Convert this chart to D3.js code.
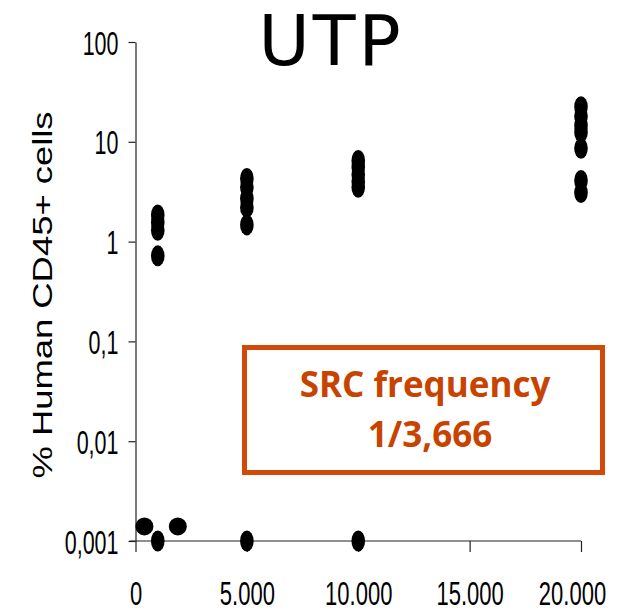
<!DOCTYPE html>
<html>
<head>
<meta charset="utf-8">
<script src="https://cdn.jsdelivr.net/npm/d3@7"></script>
<style>
  body { margin: 0; background: #fff; }
  svg { display: block; }
</style>
</head>
<body>
<div id="chart"></div>
<script>
// cell dose vs % human CD45+ (ellipse markers)
var cellDose = [1000, 1000, 1000, 1000,
                5000, 5000, 5000, 5000, 5000,
                10000, 10000, 10000, 10000, 10000,
                20000, 20000, 20000, 20000, 20000, 20000, 20000,
                1000, 5000, 10000];
var pctCD45 = [1.85, 1.55, 1.3, 0.72,
               4.3, 3.5, 2.7, 2.2, 1.47,
               6.5, 5.6, 4.7, 4.0, 3.5,
               22.5, 18, 14.5, 12.5, 8.6, 4.1, 3.1,
               0.001, 0.001, 0.001];
// the round markers near the origin
var roundDose = [400, 1900];
var roundPct = [0.0014, 0.0014];

var yTicks = [0.001, 0.01, 0.1, 1, 10, 100];
var yTickLabels = ["0,001", "0,01", "0,1", "1", "10", "100"];
var xTicks = [0, 5000, 10000, 15000, 20000];
var xTickLabels = ["0", "5.000", "10.000", "15.000", "20.000"];

var width = 621, height = 614;
var stretch = 1.55;

var svg = d3.select("#chart").append("svg")
	.attr("width", width)
	.attr("height", height);

var x = d3.scaleLinear().domain([0, 20000]).range([135.5, 581]);
var y = d3.scaleLog().domain([0.001, 100]).range([541, 42]);

// y axis
var yAxis = svg.append("g")
	.attr("transform", "translate(" + x(0) + ",0)")
	.call(d3.axisLeft(y)
		.tickValues(yTicks)
		.tickSize(7)
		.tickSizeOuter(0)
		.tickPadding(10)
		.tickFormat(function(d, i){ return yTickLabels[i]; }));
yAxis.selectAll("text")
	.attr("dy", "0.36em")
	.attr("transform", "scale(1," + stretch + ")")
	.style("font-family", "'Liberation Sans', Arial, sans-serif")
	.style("font-size", "21.5px")
	.style("fill", "#000");

// x axis
var xAxis = svg.append("g")
	.attr("transform", "translate(0," + y(0.001) + ")")
	.call(d3.axisBottom(x)
		.tickValues(xTicks)
		.tickSize(11)
		.tickSizeOuter(0)
		.tickFormat(function(d, i){ return xTickLabels[i]; }));
xAxis.selectAll("text")
	.attr("y", 64 / stretch)
	.attr("dy", 0)
	.attr("transform", "scale(1," + stretch + ")")
	.style("font-family", "'Liberation Sans', Arial, sans-serif")
	.style("font-size", "22px")
	.style("fill", "#000");
// last label pushed in so it fits the page
xAxis.selectAll(".tick").filter(function(d){ return d == 20000; })
	.select("text").attr("x", -9);
xAxis.select(".domain").attr("d", "M" + (x(0) - 6) + ",0H" + x(20000));

svg.selectAll(".domain, .tick line")
	.attr("stroke", "#222")
	.attr("stroke-width", 1.2);

// points
var pts = svg.append("g").attr("class", "points");
pts.selectAll("ellipse")
	.data(cellDose)
	.enter().append("ellipse")
	.attr("cx", function(d){ return x(d); })
	.attr("cy", function(d, i){ return y(pctCD45[i]); })
	.attr("rx", 6.8)
	.attr("ry", 10.5)
	.style("fill", "#000");
pts.selectAll("circle")
	.data(roundDose)
	.enter().append("circle")
	.attr("cx", function(d){ return x(d); })
	.attr("cy", function(d, i){ return y(roundPct[i]); })
	.attr("r", 9)
	.style("fill", "#000");

// y title
svg.append("text")
	.attr("transform", "translate(43,295) scale(1,1.3) rotate(-90)")
	.attr("text-anchor", "middle")
	.attr("dominant-baseline", "central")
	.style("font-family", "'Liberation Sans', Arial, sans-serif")
	.style("font-size", "28px")
	.text("% Human CD45+ cells");

// title
svg.append("text")
	.attr("x", 331)
	.attr("y", 65)
	.attr("text-anchor", "middle")
	.style("font-family", "'Comic Sans MS', 'DejaVu Sans', sans-serif")
	.style("font-size", "70px")
	.style("letter-spacing", "3px")
	.text("UTP");

// SRC box
svg.append("rect")
	.attr("x", 244.5)
	.attr("y", 347.5)
	.attr("width", 358)
	.attr("height", 125)
	.style("fill", "none")
	.style("stroke", "#d24a0a")
	.style("stroke-width", 5);

var boxText = svg.append("g")
	.style("font-family", "'Open Sans', Lato, sans-serif")
	.style("font-weight", "bold")
	.style("font-size", "35px")
	.style("fill", "#c84300")
	.attr("text-anchor", "middle");
boxText.append("text").attr("x", 425).attr("y", 397).text("SRC frequency");
boxText.append("text").attr("x", 430).attr("y", 447).text("1/3,666");
</script>
</body>
</html>
